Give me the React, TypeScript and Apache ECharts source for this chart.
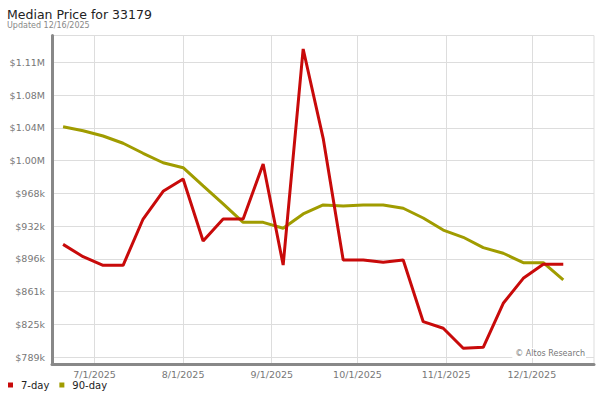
import React, { useEffect, useRef } from "react";
import * as echarts from "echarts";

const TITLE = "Median Price for 33179";
const SUBTITLE = "Updated 12/16/2025";
const WATERMARK = "© Altos Research";

// weekly dates (Fridays) 6/20/2025 .. 12/12/2025
const DATES: string[] = [
  "2025-06-20", "2025-06-27", "2025-07-04", "2025-07-11", "2025-07-18", "2025-07-25",
  "2025-08-01", "2025-08-08", "2025-08-15", "2025-08-22", "2025-08-29", "2025-09-05",
  "2025-09-12", "2025-09-19", "2025-09-26", "2025-10-03", "2025-10-10", "2025-10-17",
  "2025-10-24", "2025-10-31", "2025-11-07", "2025-11-14", "2025-11-21", "2025-11-28",
  "2025-12-05", "2025-12-12",
];

const SEVEN_DAY: number[] = [
  912000, 898600, 889200, 889200, 939600, 969800, 983200, 915700, 939600, 939600,
  999500, 889500, 1124800, 1027500, 895000, 895000, 892500, 895000, 827800, 820600,
  798800, 799900, 847800, 875000, 890300, 890300,
];

const NINETY_DAY: number[] = [
  1040100, 1035800, 1030000, 1022100, 1011200, 1000900, 995500, 975600, 956000, 936000,
  936000, 929500, 945100, 954900, 953800, 954900, 954900, 951300, 940700, 927600,
  919700, 908400, 902300, 892000, 892000, 873200,
];

const Y_TICKS: number[] = [789000, 824700, 860400, 896100, 931800, 967500, 1003200, 1038900, 1074600, 1110300];
const Y_LABELS: string[] = ["$789k", "$825k", "$861k", "$896k", "$932k", "$968k", "$1.00M", "$1.04M", "$1.08M", "$1.11M"];

const X_TICK_DATES: string[] = ["2025-07-01", "2025-08-01", "2025-09-01", "2025-10-01", "2025-11-01", "2025-12-01"];
const X_LABELS: string[] = ["7/1/2025", "8/1/2025", "9/1/2025", "10/1/2025", "11/1/2025", "12/1/2025"];

const SERIES_NAMES = ["7-day", "90-day"];
const COLORS = ["#c80a0a", "#a09c00"];

function ts(s: string, hour = 0): number {
  const [y, m, d] = s.split("-").map(Number);
  return Date.UTC(y, m - 1, d, hour);
}

function nearestLabel(ticks: number[], labels: string[], v: number): string {
  let best = 0;
  for (let i = 1; i < ticks.length; i++) {
    if (Math.abs(ticks[i] - v) < Math.abs(ticks[best] - v)) best = i;
  }
  return labels[best];
}

const FONT = "DejaVu Sans";

export default function App() {
  const ref = useRef<HTMLDivElement>(null);

  useEffect(() => {
    if (!ref.current) return;
    const chart = echarts.init(ref.current, undefined, { renderer: "svg" });
    const xTicks = X_TICK_DATES.map((d) => ts(d));
    const option: any = {
      animation: false,
      backgroundColor: "#fff",
      textStyle: { fontFamily: FONT },
      graphic: [
        {
          type: "text",
          x: 7,
          y: 14,
          style: { text: TITLE, fill: "#222", font: `12.5px ${FONT}`, verticalAlign: "middle" },
        },
        {
          type: "text",
          x: 7,
          y: 25,
          style: { text: SUBTITLE, fill: "#888", font: `8px ${FONT}`, verticalAlign: "middle" },
        },
        {
          type: "text",
          right: 14,
          top: 348,
          z: 100,
          style: {
            text: WATERMARK,
            fill: "#777",
            font: `8px ${FONT}`,
            backgroundColor: "#fff",
            padding: [1, 1, 1, 3],
          },
        },
      ],
      legend: {
        left: 8,
        top: 380,
        padding: 0,
        icon: "rect",
        itemWidth: 5,
        itemHeight: 5,
        itemGap: 10,
        textStyle: { fontSize: 10, color: "#222", fontFamily: FONT, padding: [0, 0, 0, 3] },
        data: SERIES_NAMES.map((n, i) => ({ name: n, itemStyle: { color: COLORS[i] } })),
      },
      grid: {
        left: 52,
        right: 6,
        top: 35.5,
        bottom: 36,
        show: true,
        borderColor: "#ddd",
        borderWidth: 1,
        containLabel: false,
      },
      xAxis: {
        type: "value",
        min: ts("2025-06-16", 3),
        max: ts("2025-12-22", 18),
        axisLine: { show: true, onZero: false, lineStyle: { color: "#888", width: 3 } },
        axisTick: { show: false, customValues: xTicks },
        axisLabel: {
          customValues: xTicks,
          color: "#777",
          fontSize: 9.5,
          fontFamily: FONT,
          margin: 5,
          formatter: (v: number) => nearestLabel(xTicks, X_LABELS, v),
        },
        splitLine: { show: true, lineStyle: { color: "#ddd", width: 1 } },
      },
      yAxis: {
        type: "value",
        min: 781700,
        max: 1139470,
        axisLine: { show: true, onZero: false, lineStyle: { color: "#888", width: 3 } },
        axisTick: { show: false, customValues: Y_TICKS },
        axisLabel: {
          customValues: Y_TICKS,
          color: "#777",
          fontSize: 9.5,
          fontFamily: FONT,
          margin: 7,
          formatter: (v: number) => nearestLabel(Y_TICKS, Y_LABELS, v),
        },
        splitLine: { show: true, lineStyle: { color: "#ddd", width: 1 } },
      },
      series: [
        {
          name: SERIES_NAMES[0],
          type: "line",
          z: 4,
          showSymbol: false,
          color: COLORS[0],
          lineStyle: { width: 3, color: COLORS[0] },
          data: DATES.map((d, i) => [ts(d), SEVEN_DAY[i]]),
        },
        {
          name: SERIES_NAMES[1],
          type: "line",
          z: 3,
          showSymbol: false,
          color: COLORS[1],
          lineStyle: { width: 3, color: COLORS[1] },
          data: DATES.map((d, i) => [ts(d), NINETY_DAY[i]]),
        },
      ],
    };
    chart.setOption(option);
    return () => chart.dispose();
  }, []);

  return <div ref={ref} style={{ width: 600, height: 400, position: "absolute", left: 0, top: 0 }} />;
}
